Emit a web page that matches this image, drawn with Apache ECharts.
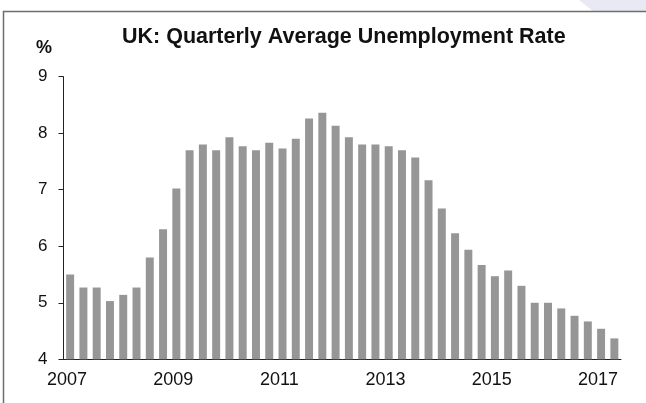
<!DOCTYPE html>
<html>
<head>
<meta charset="utf-8">
<script src="https://cdn.jsdelivr.net/npm/echarts@6/dist/echarts.min.js"></script>
<style>
html,body{margin:0;padding:0;background:#fff;}
#chart{width:646px;height:403px;}
</style>
</head>
<body>
<div id="chart"></div>
<script>
var quarters = [];
for (var y = 2007; y <= 2017; y++) { for (var q = 1; q <= 4; q++) { quarters.push(y + 'Q' + q); } }
quarters = quarters.slice(0, 42);

var unemploymentRate = [
  5.50, 5.27, 5.27, 5.03, 5.14, 5.27, 5.80, 6.30,
  7.02, 7.70, 7.80, 7.70, 7.93, 7.77, 7.70, 7.83,
  7.73, 7.90, 8.26, 8.36, 8.13, 7.93, 7.80, 7.80,
  7.77, 7.70, 7.57, 7.17, 6.67, 6.23, 5.94, 5.67,
  5.47, 5.57, 5.30, 5.00, 5.00, 4.90, 4.77, 4.67,
  4.54, 4.37
];

var yearLabels = ['2007', '2009', '2011', '2013', '2015', '2017'];
var yTicks = { min: 4, max: 9, interval: 1 };

var font = 'Liberation Sans, Arial, sans-serif';
var chart = echarts.init(document.getElementById('chart'));
chart.setOption({
  animation: false,
  backgroundColor: '#ffffff',
  title: {
    text: 'UK: Quarterly Average Unemployment Rate',
    left: 122,
    top: 26,
    padding: 0,
    textStyle: { fontFamily: font, fontSize: 21.5, fontWeight: 'bold', color: '#111' }
  },
  graphic: [
    { type: 'polygon', shape: { points: [[579, 0], [646, 0], [646, 11], [593, 11]] },
      style: { fill: '#e9e9f3' }, silent: true },
    { type: 'polyline', shape: { points: [[3.5, 403], [3.5, 11.5], [646, 11.5]] },
      style: { stroke: '#6e6e6e', lineWidth: 1.5, fill: null }, silent: true },
    { type: 'text', left: 36, top: 39,
      style: { text: '%', fontFamily: font, fontSize: 18, fontWeight: 'bold', fill: '#111' } }
  ],
  grid: { left: 63.5, right: 25, top: 76.7, bottom: 43.7, containLabel: false },
  xAxis: [
    {
      type: 'category',
      data: quarters,
      boundaryGap: true,
      axisLine: { lineStyle: { color: '#222', width: 1 } },
      axisTick: { interval: 3, length: 5, lineStyle: { color: '#222' } },
      axisLabel: { show: false },
      splitLine: { show: false }
    },
    {
      type: 'value',
      position: 'bottom',
      min: 2007,
      max: 2017.5,
      interval: 1,
      axisLine: { show: false },
      axisTick: { show: false },
      splitLine: { show: false },
      axisLabel: {
        showMaxLabel: false,
        margin: 12,
        padding: [0, 0, 0, 7],
        fontFamily: font,
        fontSize: 18,
        color: '#111',
        formatter: function (v) { var s = String(v); return yearLabels.indexOf(s) >= 0 ? s : ''; }
      }
    }
  ],
  yAxis: {
    type: 'value',
    min: yTicks.min,
    max: yTicks.max,
    interval: yTicks.interval,
    axisLine: { show: true, lineStyle: { color: '#222', width: 1 } },
    axisTick: { show: true, length: 5, lineStyle: { color: '#222' } },
    splitLine: { show: false },
    axisLabel: { margin: 16, fontFamily: font, fontSize: 17, color: '#111' }
  },
  series: [{
    type: 'bar',
    xAxisIndex: 0,
    data: unemploymentRate,
    barCategoryGap: '40%',
    itemStyle: { color: '#969696' }
  }]
});
</script>
</body>
</html>
